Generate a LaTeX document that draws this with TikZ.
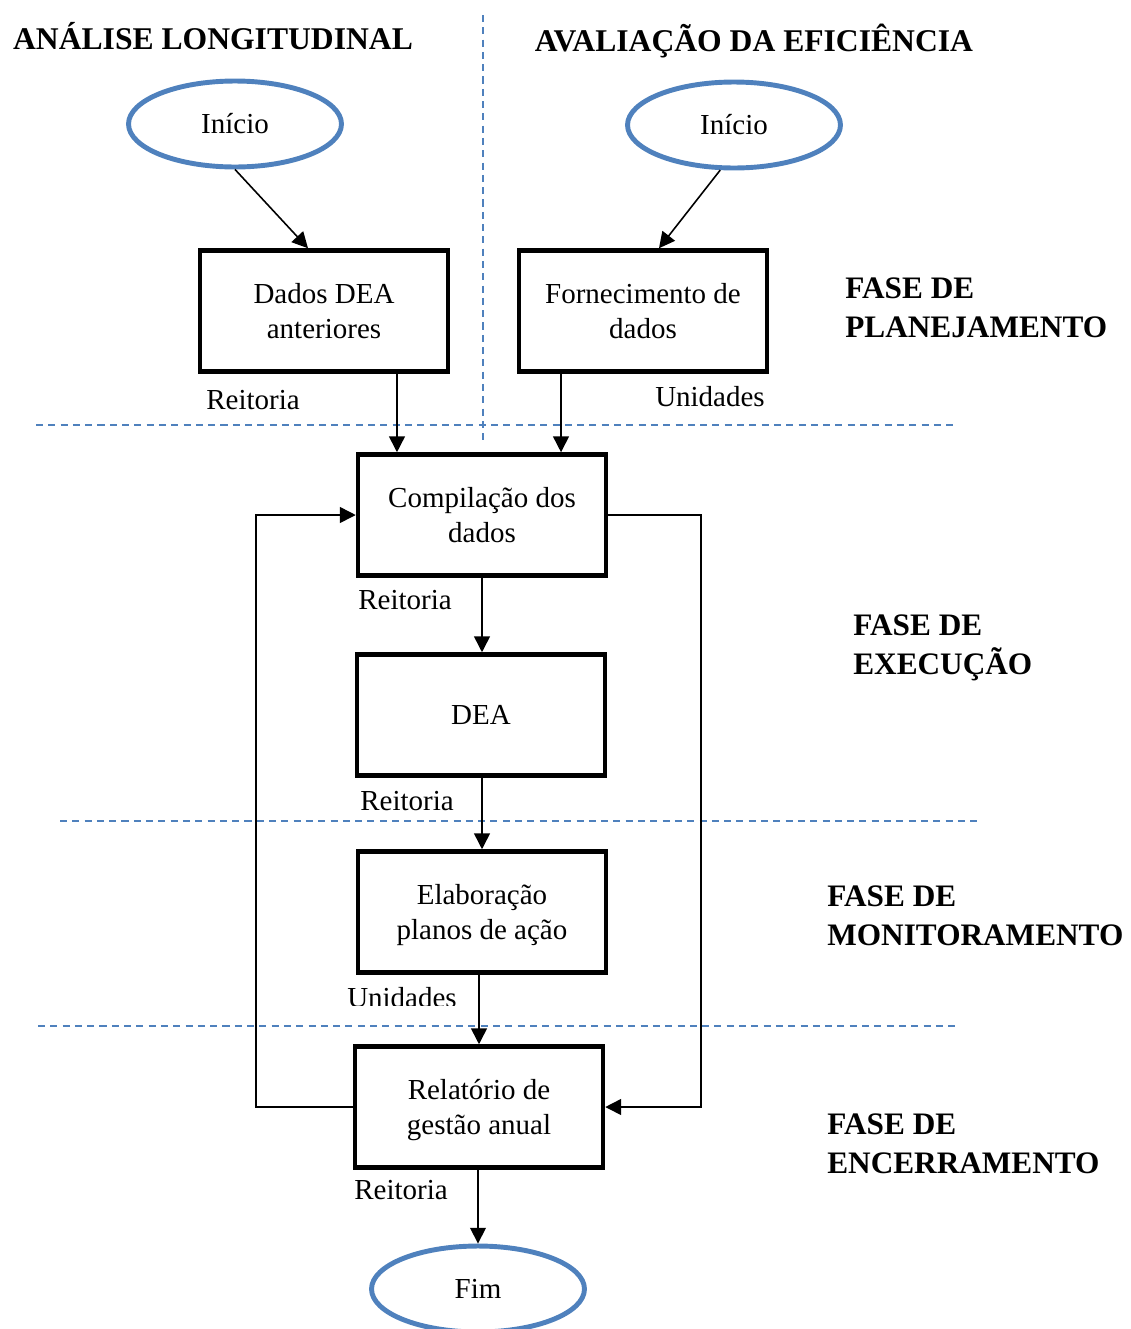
\documentclass[tikz,border=0pt]{standalone}
\usepackage{fontspec}
\setmainfont{Liberation Serif}
\usetikzlibrary{arrows.meta,shapes.geometric}
\definecolor{azul}{RGB}{79,129,189}
\tikzset{
  caixa/.style={draw, line width=2.6pt, minimum width=4.96cm, minimum height=2.42cm,
    align=center, text depth=0pt, font=\fontsize{16.5}{19.8}\selectfont},
  inicio/.style={ellipse, draw=azul, line width=2.8pt, minimum width=4.26cm,
    minimum height=1.72cm, font=\fontsize{16.5}{19.8}\selectfont},
  seta/.style={-{Triangle[length=9pt,width=9pt]}, line width=0.9pt},
  divisoria/.style={azul, dash pattern=on 4pt off 3pt, line width=0.8pt},
  fase/.style={anchor=west, align=left, inner sep=0pt,
    font=\fontsize{17.8}{22}\selectfont\bfseries},
  titulo/.style={anchor=base, inner sep=0pt, font=\fontsize{18}{22}\selectfont\bfseries},
  rotulo/.style={anchor=base, inner sep=0pt, font=\fontsize{16.5}{19.8}\selectfont}
}
\begin{document}
\begin{tikzpicture}[x=0.02cm, y=-0.02cm]
    \useasboundingbox (0,0) rectangle (1131,1329);

    % separadores
    \draw[divisoria] (483,15) -- (483,445);
    \draw[divisoria] (36,425) -- (955,425);
    \draw[divisoria] (60,821) -- (978,821);
    \draw[divisoria] (38,1026) -- (957,1026);

    % titulos
    \node[titulo] (tit1) at (213,49) {ANÁLISE LONGITUDINAL};
    \node[titulo] (tit2) at (754,51) {AVALIAÇÃO DA EFICIÊNCIA};

    % fases
    \node[fase] (fase1) at (845,308) {FASE DE\\PLANEJAMENTO};
    \node[fase] (fase2) at (853,648) {FASE DE\\EXECUÇÃO};
    \node[fase] (fase3) at (827,916) {FASE DE\\MONITORAMENTO};
    \node[fase] (fase4) at (827,1144) {FASE DE\\ENCERRAMENTO};

    % etapas
    \node[inicio] (ini1) at (235,124) {Início};
    \node[inicio] (ini2) at (734,125) {Início};
    \node[caixa] (dados) at (324,311) {Dados DEA\\anteriores};
    \node[caixa] (forn) at (643,311) {Fornecimento de\\dados};
    \node[caixa] (comp) at (482,515) {Compilação dos\\dados};
    \node[caixa] (dea) at (481,715) {DEA};
    \node[caixa] (elab) at (482,912) {Elaboração\\planos de ação};
    \node[caixa] (rel) at (479,1107) {Relatório de\\gestão anual};
    \node[inicio] (fim) at (478,1289) {Fim};

    % responsaveis
    \node[rotulo] (r1) at (253,409) {Reitoria};
    \node[rotulo] (u1) at (710,406) {Unidades};
    \node[rotulo] (r2) at (405,609) {Reitoria};
    \node[rotulo] (r3) at (407,810) {Reitoria};
    \begin{scope}
      \clip (300,960) rectangle (520,1005);
      \node[rotulo] (u2) at (402,1007) {Unidades};
    \end{scope}
    \node[rotulo] (r4) at (401,1199) {Reitoria};

    % fluxo
    \draw[seta] (ini1.south) -- ([xshift=-0.32cm]dados.north);
    \draw[seta] (ini2.-107) -- ([xshift=0.32cm]forn.north);
    \draw[seta] ([xshift=1.46cm]dados.south) -- ([xshift=1.46cm]dados.south |- comp.north);
    \draw[seta] ([xshift=-1.64cm]forn.south) -- ([xshift=-1.64cm]forn.south |- comp.north);
    \draw[seta] (comp.south) -- (comp.south |- dea.north);
    \draw[seta] (comp.south |- dea.south) -- (comp.south |- elab.north);
    \draw[seta] (rel.north |- elab.south) -- (rel.north);
    \draw[seta] (fim.north |- rel.south) -- (fim.north);

    % retornos
    \coordinate (volta1) at (256,800);
    \coordinate (volta2) at (701,800);
    \draw[seta] (rel.west) -| (volta1) |- (comp.west);
    \draw[seta] (comp.east) -| (volta2) |- (rel.east);
\end{tikzpicture}
\end{document}
